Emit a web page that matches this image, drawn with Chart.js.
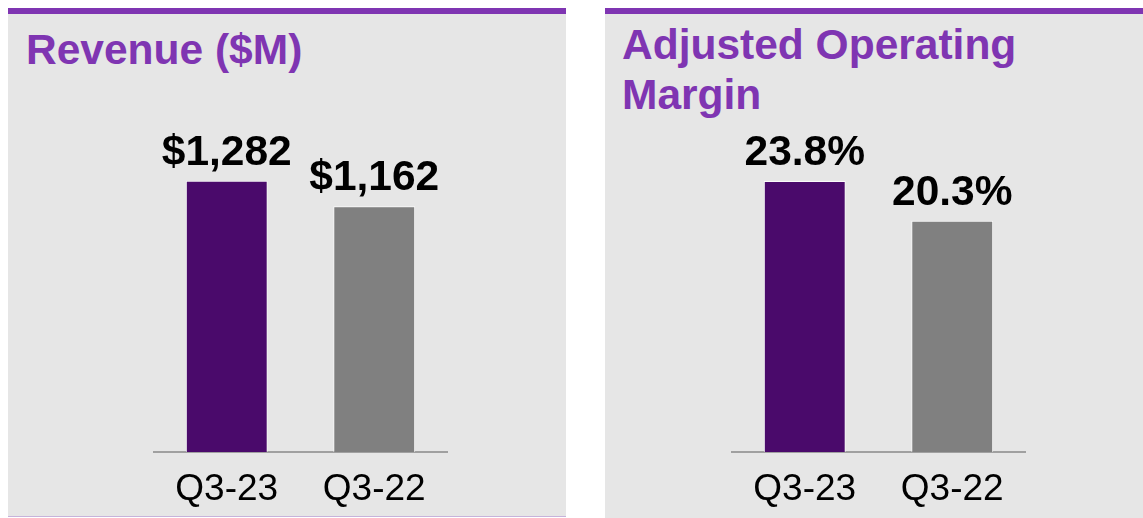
<!DOCTYPE html>
<html>
<head>
<meta charset="utf-8">
<script src="https://cdn.jsdelivr.net/npm/chart.js@4"></script>
<style>
  body { margin: 0; background: #fff; width: 1143px; height: 518px; overflow: hidden; position: relative; font-family: "Liberation Sans", Arial, sans-serif; }
  .panel { position: absolute; top: 8px; background: #e6e6e6; border-top: 6px solid #7f35b2; box-sizing: border-box; }
  .title { position: absolute; color: #7f35b2; font-weight: bold; font-size: 42.5px; line-height: 50px; white-space: nowrap; }
  canvas { position: absolute; }
</style>
</head>
<body>
<div class="panel" style="left:8px; width:558px; height:509px; border-bottom:1px solid #c6b3da;"></div>
<div class="panel" style="left:605px; width:538px; height:510px;"></div>
<div class="title" style="left:26px; top:25px;">Revenue ($M)</div>
<div class="title" style="left:622px; top:20px;">Adjusted Operating<br>Margin</div>
<canvas id="revenueChart" width="295" height="418" style="left:153px; top:100px;"></canvas>
<canvas id="marginChart" width="295" height="418" style="left:731px; top:100px;"></canvas>
<script>
const categories = ['Q3-23', 'Q3-22'];
const revenue = [1282, 1162];
const margin = [23.8, 20.3];
const barColors = ['#4a0a6b', '#808080'];

const FONT = '"Liberation Sans", Arial, sans-serif';

// draws the number above each bar
function makeValueLabels(fmt) {
  return {
    id: 'valueLabels',
    afterDatasetsDraw(chart) {
      const ctx = chart.ctx;
      const meta = chart.getDatasetMeta(0);
      const data = chart.data.datasets[0].data;
      ctx.save();
      ctx.font = 'bold 42.5px ' + FONT;
      ctx.fillStyle = '#000';
      ctx.textAlign = 'center';
      ctx.textBaseline = 'alphabetic';
      meta.data.forEach((bar, i) => {
        ctx.fillText(fmt(data[i]), bar.x, bar.y - 16);
      });
      ctx.restore();
    }
  };
}

function makeBarChart(id, values, yMax, padTop, fmt) {
  const ctx = document.getElementById(id).getContext('2d');
  return new Chart(ctx, {
    type: 'bar',
    data: {
      labels: categories,
      datasets: [{
        data: values,
        backgroundColor: barColors,
        borderColor: 'rgba(255,255,255,0.8)',
        borderWidth: 1,
        categoryPercentage: 1,
        barPercentage: 0.555
      }]
    },
    options: {
      responsive: false,
      devicePixelRatio: 1,
      animation: false,
      layout: { padding: { top: padTop, left: 0, right: 0, bottom: 0 } },
      plugins: { legend: { display: false }, tooltip: { enabled: false } },
      scales: {
        x: {
          grid: { drawOnChartArea: false, drawTicks: false },
          border: { color: '#a0a0a0', width: 2 },
          ticks: { color: '#000', padding: 16, font: { family: FONT, size: 37 } },
          afterFit: s => { s.height = 66; }
        },
        y: { display: false, min: 0, max: yMax }
      }
    },
    plugins: [makeValueLabels(fmt)]
  });
}

makeBarChart('revenueChart', revenue, 1600, 13.6, v => '$' + v.toLocaleString('en-US'));
makeBarChart('marginChart', margin, 30, 10.4, v => v.toFixed(1) + '%');
</script>
</body>
</html>
